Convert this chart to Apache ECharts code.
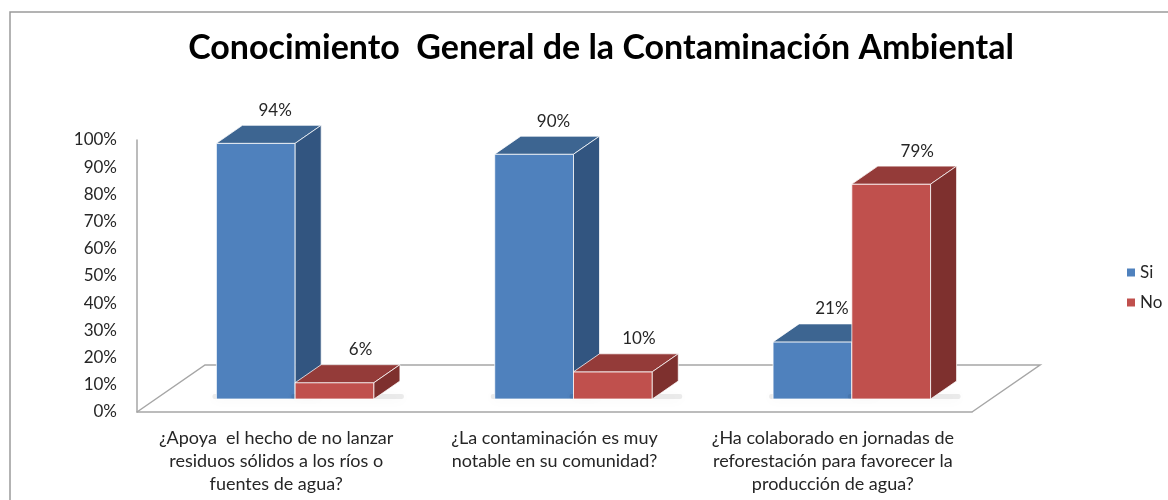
<!DOCTYPE html>
<html>
<head>
<meta charset="utf-8">
<script src="https://cdn.jsdelivr.net/npm/echarts@6/dist/echarts.min.js"></script>
<style>
  html, body { margin: 0; padding: 0; background: #fff; }
  #chart { width: 1168px; height: 500px; }
</style>
</head>
<body>
<div id="chart"></div>
<script>
// datos
let categories = [
    '¿Apoya  el hecho de no lanzar\nresiduos sólidos a los ríos o\nfuentes de agua?',
    '¿La contaminación es muy\nnotable en su comunidad?',
    '¿Ha colaborado en jornadas de\nreforestación para favorecer la\nproducción de agua?'
];
let siValues = [0.94, 0.90, 0.21];
let noValues = [0.06, 0.10, 0.79];
let yTicks = [0, 0.1, 0.2, 0.3, 0.4, 0.5, 0.6, 0.7, 0.8, 0.9, 1];

let FONT = 'Lato, "Open Sans", sans-serif';
// profundidad del piso y de las barras (perspectiva)
let floorDepth = [68, -47];
let barFront = [19, -13];
let barDepth = [26, -18];

let colors = {
    Si: { front: '#4F81BD', top: '#3D6591', side: '#325580' },
    No: { front: '#C0504D', top: '#943B39', side: '#7E302E' }
};

let poly = (pts, fill) => ({
    type: 'polygon',
    shape: { points: pts },
    style: { fill: fill, stroke: 'rgba(255,255,255,0.75)', lineWidth: 1 }
});

let barRender = (name, side) => (params, api) => {
    let cat = api.value(0);
    let val = api.value(1);
    let base = api.coord([cat, 0]);
    let top = api.coord([cat, val]);
    let band = api.size([1, 0])[0];
    let w = band * 0.283;
    let x0 = base[0] + barFront[0] + (side < 0 ? -w : 0);
    let x1 = x0 + w;
    let yb = base[1] + barFront[1];
    let yt = top[1] + barFront[1];
    let dx = barDepth[0], dy = barDepth[1];
    let c = colors[name];
    let text = Math.round(val * 100) + '%';
    let lx = (x0 + x1) / 2 + dx;
    if (side < 0) lx = Math.min(lx, x1 - 20);   // que no tape la barra vecina
    return {
        type: 'group',
        children: [
            {
                type: 'rect',
                shape: { x: x0 - 4, y: yb - 5, width: x1 - x0 + dx + 8, height: 5, r: 2 },
                style: { fill: 'rgba(0,0,0,0.08)', shadowBlur: 12, shadowColor: 'rgba(0,0,0,0.5)', shadowOffsetY: 1 },
                silent: true
            },
            poly([[x0, yb], [x1, yb], [x1, yt], [x0, yt]], c.front),
            poly([[x0, yt], [x1, yt], [x1 + dx, yt + dy], [x0 + dx, yt + dy]], c.top),
            poly([[x1, yb], [x1 + dx, yb + dy], [x1 + dx, yt + dy], [x1, yt]], c.side),
            {
                type: 'text',
                style: {
                    text: text,
                    x: lx,
                    y: yt + dy - 15,
                    align: 'center',
                    verticalAlign: 'middle',
                    font: '17px ' + FONT,
                    fill: '#262626'
                }
            }
        ]
    };
};

let floorRender = (params, api) => {
    let cs = params.coordSys;
    let l = cs.x, r = cs.x + cs.width, b = cs.y + cs.height;
    let dx = floorDepth[0], dy = floorDepth[1];
    return {
        type: 'polyline',
        shape: { points: [[l, b], [l + dx, b + dy], [r + dx, b + dy], [r, b]] },
        style: { fill: null, stroke: '#a6a6a6', lineWidth: 1.5 },
        silent: true
    };
};

let chart = echarts.init(document.getElementById('chart'));
let option = {
    animation: false,
    title: {
        text: 'Conocimiento  General de la Contaminación Ambiental',
        left: 596,
        top: 26,
        textAlign: 'center',
        textStyle: { fontFamily: FONT, fontSize: 34, fontWeight: 'bold', color: '#000' }
    },
    graphic: [{
        type: 'polyline',
        shape: { points: [[10, 520], [10, 12], [1200, 12]] },
        style: { stroke: '#9a9a9a', lineWidth: 1.5, fill: null }
    }],
    legend: {
        orient: 'vertical',
        left: 1122,
        top: 259,
        itemWidth: 8,
        itemHeight: 8,
        itemGap: 13,
        icon: 'rect',
        textStyle: { fontFamily: FONT, fontSize: 17, color: '#262626', padding: [0, 0, 0, 0] },
        data: ['Si', 'No']
    },
    grid: { left: 137, right: 196, top: 140, bottom: 88 },
    xAxis: {
        type: 'category',
        data: categories,
        axisTick: { show: false },
        axisLine: { lineStyle: { color: '#a6a6a6', width: 1.5 } },
        axisLabel: {
            interval: 0,
            margin: 15,
            fontFamily: FONT,
            fontSize: 18,
            lineHeight: 23,
            color: '#262626'
        }
    },
    yAxis: {
        type: 'value',
        min: 0,
        max: 1,
        interval: 0.1,
        splitLine: { show: false },
        axisTick: { show: false },
        axisLine: { show: true, lineStyle: { color: '#a6a6a6', width: 1.5 } },
        axisLabel: {
            margin: 20,
            fontFamily: FONT,
            fontSize: 17,
            color: '#262626',
            formatter: (v) => Math.round(v * 100) + '%'
        }
    },
    series: [
        {
            name: 'floor',
            type: 'custom',
            renderItem: floorRender,
            data: [[0, 0]],
            z: 1,
            silent: true
        },
        {
            name: 'Si',
            type: 'custom',
            itemStyle: { color: colors.Si.front },
            renderItem: barRender('Si', -1),
            encode: { x: 0, y: 1 },
            data: siValues.map((v, i) => [i, v]),
            z: 2
        },
        {
            name: 'No',
            type: 'custom',
            itemStyle: { color: colors.No.front },
            renderItem: barRender('No', 1),
            encode: { x: 0, y: 1 },
            data: noValues.map((v, i) => [i, v]),
            z: 3
        }
    ]
};
chart.setOption(option);
</script>
</body>
</html>
